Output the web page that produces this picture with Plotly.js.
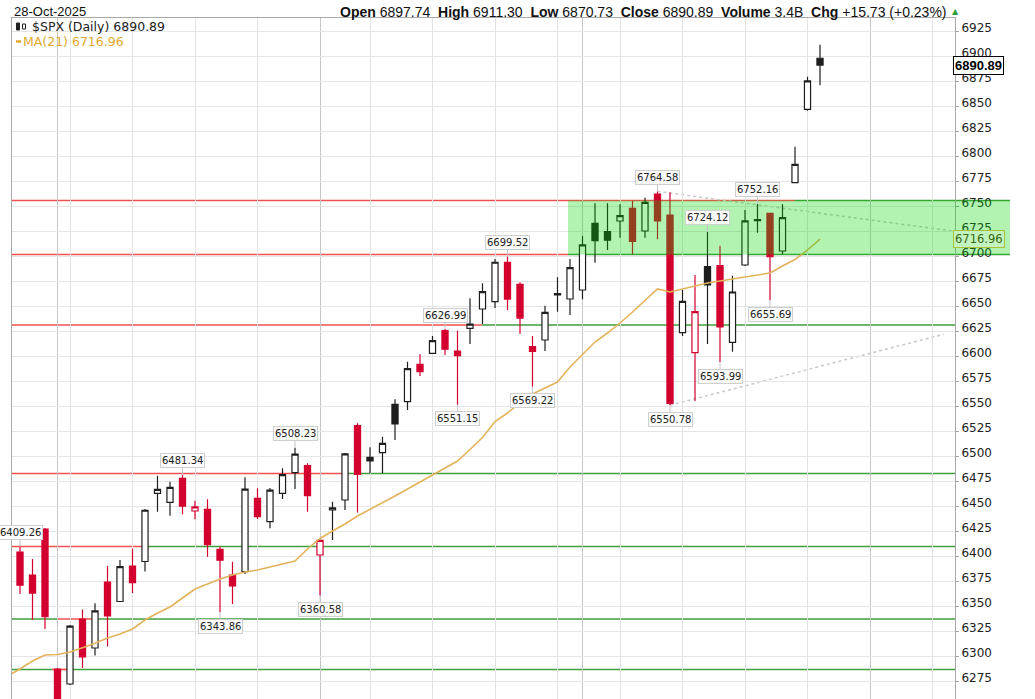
<!DOCTYPE html>
<html><head><meta charset="utf-8">
<script src="https://cdn.plot.ly/plotly-3.0.1.min.js"></script>
<style>html,body{margin:0;padding:0;background:#fff;overflow:hidden}#chart{width:1035px;height:699px}</style>
</head><body><div id="chart"></div>
<script>
// ---------------- data ----------------
const dates = ['2025-07-29','2025-07-30','2025-07-31','2025-08-01','2025-08-04','2025-08-05','2025-08-06','2025-08-07','2025-08-08',
'2025-08-11','2025-08-12','2025-08-13','2025-08-14','2025-08-15','2025-08-18','2025-08-19','2025-08-20','2025-08-21','2025-08-22',
'2025-08-25','2025-08-26','2025-08-27','2025-08-28','2025-08-29','2025-09-02','2025-09-03','2025-09-04','2025-09-05',
'2025-09-08','2025-09-09','2025-09-10','2025-09-11','2025-09-12','2025-09-15','2025-09-16','2025-09-17','2025-09-18','2025-09-19',
'2025-09-22','2025-09-23','2025-09-24','2025-09-25','2025-09-26','2025-09-29','2025-09-30','2025-10-01','2025-10-02','2025-10-03',
'2025-10-06','2025-10-07','2025-10-08','2025-10-09','2025-10-10','2025-10-13','2025-10-14','2025-10-15','2025-10-16','2025-10-17',
'2025-10-20','2025-10-21','2025-10-22','2025-10-23','2025-10-24','2025-10-27','2025-10-28'];
const futureDates = ['2025-10-29','2025-10-30','2025-10-31','2025-11-03','2025-11-04','2025-11-05','2025-11-06','2025-11-07','2025-11-10','2025-11-11'];
const opens = [6404,6381,6427,6287,6272,6337,6308,6374,6354.5,6390,6394.5,6462.7,6453.7,6477.7,6445,6446.7,6406.7,6381,6384.3,
6457.7,6434.3,6462.7,6483.3,6490.3,6401,6446,6456,6530.3,6498.7,6503.3,6551.7,6554.3,6591.7,6602.7,6625.3,6605,6627.7,6647,
6654.3,6693.7,6671.7,6609.3,6616,6662.5,6657,6666,6732.7,6724.3,6735,6747.7,6725,6762,6741,6623.3,6603.3,6689.3,6690.3,6613.7,
6691,6736.5,6742.7,6705,6773.3,6846.7,6897.74];
const highs = [6409.26,6397,6428,6288,6331,6346.5,6352.8,6390,6396,6407.5,6447,6480.3,6474.3,6481.34,6455.3,6456.7,6409.3,6394.3,6478.7,
6467.7,6468,6487.7,6508.23,6492.7,6416,6454.3,6503,6532.7,6508.7,6519.3,6556.7,6594.3,6601.7,6620,6626.99,6625.3,6657.7,6672.7,
6697,6699.52,6673.7,6620,6650.3,6678.7,6697,6720,6752.7,6752.7,6751.7,6755.3,6758.3,6764.58,6763.7,6666,6681,6724.12,6710.3,6680.3,
6746,6752.16,6743,6751.7,6809.3,6879.3,6911.30];
const lows = [6362,6336,6327,6213,6271,6288,6300.5,6309.5,6354,6363,6384.5,6444.3,6440.3,6441.7,6436.7,6399.3,6343.86,6352,6382,
6437,6427.7,6457,6467,6444.3,6360.58,6416,6446,6443.5,6482.7,6482.7,6516,6546,6580,6602,6601,6551.15,6612,6632,6648,6646,6622,
6569.22,6605,6644.3,6641,6656.7,6693.3,6706,6718.3,6701.7,6718.3,6716.7,6550.78,6620,6555,6612,6593.99,6604.3,6690,6723.3,6655.69,
6701.7,6773,6845.3,6870.73];
const closes = [6370.86,6362.90,6339.39,6238.01,6329.94,6299.19,6345.06,6340.00,6389.45,6373.45,6445.76,6466.58,6468.54,6449.80,
6449.15,6411.37,6395.78,6370.17,6466.91,6439.32,6465.94,6481.40,6501.86,6460.26,6415.54,6448.26,6502.08,6481.50,6495.15,6512.61,
6532.04,6587.47,6584.29,6615.28,6606.76,6600.35,6631.96,6664.36,6693.75,6656.92,6637.97,6604.72,6643.70,6661.21,6688.46,6711.20,
6715.35,6715.79,6740.28,6714.59,6753.72,6735.11,6552.51,6654.72,6644.31,6671.06,6629.07,6664.01,6735.13,6735.35,6699.40,6738.44,
6791.69,6875.16,6890.89];
const priorClose = 6389.77;
const lastVolume = '3.4B';
const ma21 = [6287,6295,6301,6301.5,6304,6308.3,6312.7,6318,6322,6327,6336,6343,6349,6358,6367,6372,6377,6381,6384,6386,6389,6392,
6395,6407,6417.5,6425,6432,6440,6446.5,6453.5,6460,6467,6474,6481,6488,6495,6506.5,6518.5,6534.5,6543,6553,6562,6568,6574,6589,
6602,6614,6623,6633,6644,6656,6667,6664,6667,6670,6673,6675,6677,6679,6681,6683,6690,6696.5,6706,6716.96];
const ma21Prior = 6280;

const calloutDates = ['2025-07-29','2025-08-15','2025-08-28','2025-08-20','2025-09-02','2025-09-16','2025-09-17','2025-09-23',
'2025-09-25','2025-10-09','2025-10-10','2025-10-16','2025-10-15','2025-10-21','2025-10-22'];
const calloutPrices = [6409.26,6481.34,6508.23,6343.86,6360.58,6626.99,6551.15,6699.52,6569.22,6764.58,6550.78,6593.99,6724.12,6752.16,6655.69];
const calloutSides = ['above','above','above','below','below','above','below','above','below','above','below','below','above','above','below'];

// horizontal level segments (price, from index, to index, colour kind)
const segPrice = [6755.5,6755.5,6701.5,6701.5,6631,6631,6482.5,6482.5,6409.5,6409.5,6337,6337,6337,6286.5,6286.5,6286.5];
const segFrom  = [-0.64,62,-0.64,43.84,-0.64,36.96,-0.64,25.84,-0.64,9.84,-0.64,2.96,5.84,-0.64,2.56,3.84];
const segTo    = [62,79.2,43.84,79.2,36.96,74.8,25.84,74.8,9.84,74.8,2.96,5.84,74.8,2.56,3.84,74.8];
const segKind  = ['r','g','r','g','r','g','r','g','r','g','g','r','g','g','r','g'];
const zonePrices = [6701.5, 6755.5];
const zoneIdx = [43.84, 79.2];
const trendUpperIdx = [51, 74.6], trendUpperPrice = [6764.58, 6725];
const trendLowerIdx = [52, 73.9], trendLowerPrice = [6550.78, 6621.7];

// ---------------- build ----------------
const xRange = [-0.64, 74.8];
const yRange = [6257, 6938];
const idx = dates.map((d, i) => i);
const allDates = dates.concat(futureDates);
const monthIdx = [], weekIdx = [];
allDates.forEach((d, i) => {
  if (i === 0) return;
  const a = new Date(allDates[i - 1] + 'T12:00:00Z'), b = new Date(d + 'T12:00:00Z');
  if (a.getUTCMonth() !== b.getUTCMonth()) monthIdx.push(i);
  else if (b.getUTCDay() < a.getUTCDay() || (b - a) > 3 * 86400000) weekIdx.push(i);
});

const RED = '#d3002f', BLK = '#1e1e1e';
const groups = {hb: [], fr: [], fb: [], hr: []};
closes.forEach((c, i) => {
  const prev = i === 0 ? priorClose : closes[i - 1];
  const hollow = c > opens[i];
  const up = c >= prev;
  const k = hollow ? (up ? 'hb' : 'hr') : (up ? 'fb' : 'fr');
  Object.keys(groups).forEach(g => groups[g].push(g === k));
});
function candle(key, line, fill) {
  const m = groups[key];
  const sel = arr => arr.map((v, i) => m[i] ? v : null);
  const st = {line: {color: line, width: 1.2}, fillcolor: fill};
  return {type: 'candlestick', x: idx, open: sel(opens), high: sel(highs), low: sel(lows), close: sel(closes),
    increasing: st, decreasing: st, whiskerwidth: 0, hoverinfo: 'skip', showlegend: false};
}
const traces = [
  candle('hb', BLK, '#ffffff'),
  candle('hr', RED, '#ffffff'),
  candle('fb', BLK, BLK),
  candle('fr', RED, RED),
  {type: 'scatter', mode: 'lines', x: [-1].concat(idx), y: [ma21Prior].concat(ma21),
   line: {color: '#e2b35b', width: 1.6}, hoverinfo: 'skip', showlegend: false}
];

const toPX = v => (v - xRange[0]) / (xRange[1] - xRange[0]);
const L = 12, T = 18, W = 943, H = 681;
const px2x = p => (p - L) / W;
const py2y = p => (T + H - p) / H;

const shapes = [];
segPrice.forEach((p, i) => {
  shapes.push({type: 'line', xref: 'paper', yref: 'y', x0: toPX(segFrom[i]), x1: toPX(segTo[i]), y0: p, y1: p,
    line: {color: segKind[i] === 'r' ? '#f05050' : '#3f9f3f', width: 1.7}, layer: 'below'});
});
shapes.push({type: 'line', xref: 'x', yref: 'y', x0: trendUpperIdx[0], x1: trendUpperIdx[1], y0: trendUpperPrice[0], y1: trendUpperPrice[1],
  line: {color: '#c8c8c8', width: 1.5, dash: 'dot'}, layer: 'below'});
shapes.push({type: 'line', xref: 'x', yref: 'y', x0: trendLowerIdx[0], x1: trendLowerIdx[1], y0: trendLowerPrice[0], y1: trendLowerPrice[1],
  line: {color: '#c8c8c8', width: 1.5, dash: 'dot'}, layer: 'below'});
shapes.push({type: 'rect', xref: 'paper', yref: 'y', x0: toPX(zoneIdx[0]), x1: toPX(zoneIdx[1]), y0: zonePrices[0], y1: zonePrices[1],
  fillcolor: 'rgba(0,215,0,0.3)', line: {width: 0}, layer: 'above'});
// legend dash for MA
shapes.push({type: 'line', xref: 'paper', yref: 'paper', x0: px2x(16), x1: px2x(21), y0: py2y(41.5), y1: py2y(41.5),
  line: {color: '#e2a92e', width: 2.5}});
// tiny candle icon for the price legend
shapes.push({type: 'rect', xref: 'paper', yref: 'paper', x0: px2x(16.5), x1: px2x(19.5), y0: py2y(30), y1: py2y(23),
  fillcolor: '#222', line: {color: '#222', width: 1}});
shapes.push({type: 'rect', xref: 'paper', yref: 'paper', x0: px2x(22.5), x1: px2x(25.5), y0: py2y(29), y1: py2y(24),
  fillcolor: '#fff', line: {color: '#222', width: 1}});

const annotations = [];
calloutDates.forEach((d, i) => {
  annotations.push({x: dates.indexOf(d), y: calloutPrices[i], xref: 'x', yref: 'y', text: calloutPrices[i].toFixed(2),
    showarrow: true, arrowhead: 0, arrowwidth: 1, arrowcolor: '#c4c4c4', ax: 0, ay: calloutSides[i] === 'above' ? -14 : 14,
    bgcolor: '#fbfbfb', bordercolor: '#cfcfcf', borderwidth: 1, borderpad: 1,
    font: {family: 'DejaVu Sans', size: 10, color: '#222'}});
});
const n = closes.length - 1;
const chg = closes[n] - closes[n - 1];
const pct = chg / closes[n - 1] * 100;
const sp = '\u00a0';
const hdr = '<b>Open</b> ' + opens[n].toFixed(2) + sp + sp + '<b>High</b> ' + highs[n].toFixed(2) + sp + sp +
  '<b>Low</b> ' + lows[n].toFixed(2) + sp + sp + '<b>Close</b> ' + closes[n].toFixed(2) + sp + sp +
  '<b>Volume</b> ' + lastVolume + sp + sp + '<b>Chg</b> ' + (chg >= 0 ? '+' : '') + chg.toFixed(2) +
  ' (' + (pct >= 0 ? '+' : '') + pct.toFixed(2) + '%)';
const dParts = dates[n].split('-');
const mon = ['Jan','Feb','Mar','Apr','May','Jun','Jul','Aug','Sep','Oct','Nov','Dec'][+dParts[1] - 1];
annotations.push({xref: 'paper', yref: 'paper', x: px2x(12), y: py2y(11.5), xanchor: 'left', yanchor: 'middle', showarrow: false,
  text: dParts[2] + '-' + mon + '-' + dParts[0], font: {family: 'Liberation Sans, Arial', size: 13, color: '#111'}});
annotations.push({xref: 'paper', yref: 'paper', x: px2x(949), y: py2y(11.5), xanchor: 'right', yanchor: 'middle', showarrow: false,
  text: hdr, font: {family: 'Liberation Sans, Arial', size: 14, color: '#111'}});
annotations.push({xref: 'paper', yref: 'paper', x: px2x(950), y: py2y(12), xanchor: 'left', yanchor: 'middle', showarrow: false,
  text: '\u25B2', font: {family: 'DejaVu Sans', size: 8, color: '#2e9e3e'}});
annotations.push({xref: 'paper', yref: 'paper', x: px2x(30), y: py2y(26.5), xanchor: 'left', yanchor: 'middle', showarrow: false,
  text: '$SPX (Daily) ' + closes[n].toFixed(2), font: {family: 'DejaVu Sans', size: 12.5, color: '#222'}});
annotations.push({xref: 'paper', yref: 'paper', x: px2x(20.5), y: py2y(41.5), xanchor: 'left', yanchor: 'middle', showarrow: false,
  text: 'MA(21) ' + ma21[n].toFixed(2), font: {family: 'DejaVu Sans', size: 12.5, color: '#e2a92e'}});
annotations.push({xref: 'paper', yref: 'y', x: px2x(953), y: closes[n], xanchor: 'left', yanchor: 'middle', showarrow: false,
  text: '<b>' + closes[n].toFixed(2) + '</b>', bgcolor: '#ffffff', bordercolor: '#000', borderwidth: 1, borderpad: 1,
  font: {family: 'Liberation Sans, Arial', size: 13, color: '#000'}});
annotations.push({xref: 'paper', yref: 'y', x: px2x(953), y: ma21[n], xanchor: 'left', yanchor: 'middle', showarrow: false,
  text: ma21[n].toFixed(2), bgcolor: '#c2f2bd', bordercolor: '#aac23a', borderwidth: 1, borderpad: 1,
  font: {family: 'DejaVu Sans', size: 11.5, color: '#3a6a12'}});

const layout = {
  width: 1035, height: 699,
  margin: {l: L, r: 1035 - L - W, t: T, b: 0, pad: 0},
  paper_bgcolor: '#fff', plot_bgcolor: '#fff', showlegend: false,
  font: {family: 'DejaVu Sans', size: 12, color: '#222'},
  xaxis: {range: xRange, showticklabels: false, tickmode: 'array', tickvals: monthIdx, ticks: '',
    showgrid: true, gridcolor: '#c6c6c6', gridwidth: 1,
    minor: {tickmode: 'array', tickvals: weekIdx, showgrid: true, gridcolor: '#e3e3e3', gridwidth: 1, ticks: ''},
    zeroline: false, showline: true, mirror: true, linecolor: '#a9a9a9', linewidth: 1,
    rangeslider: {visible: false}, fixedrange: true},
  yaxis: {side: 'right', range: yRange, dtick: 25, tick0: 0, tickformat: 'd', showgrid: true, gridcolor: '#e5e5e5',
    zeroline: false, showline: true, mirror: true, linecolor: '#a9a9a9', ticks: 'outside', ticklen: 3, tickcolor: '#a0a0a0',
    ticklabelshift: -3, ticklabelstandoff: 0,
    tickfont: {family: 'DejaVu Sans', size: 12, color: '#222'}, fixedrange: true},
  shapes: shapes, annotations: annotations
};
Plotly.newPlot('chart', traces, layout, {displayModeBar: false, staticPlot: true});
</script></body></html>
